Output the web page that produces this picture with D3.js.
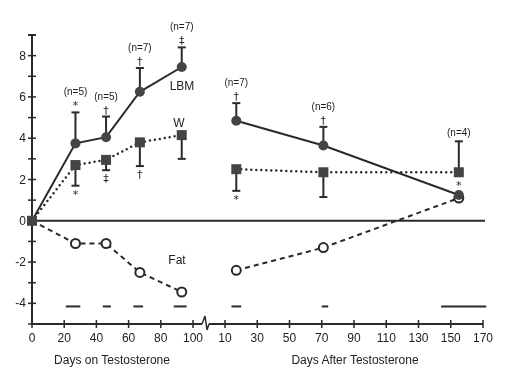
<!DOCTYPE html>
<html>
<head>
<meta charset="utf-8">
<script src="https://cdn.jsdelivr.net/npm/d3@7"></script>
<style>
  body { margin: 0; background: #fff; }
  svg { will-change: transform; }
  svg text { font-family: "Liberation Sans", Arial, sans-serif; fill: #222; }
  svg text.mark { font-family: "DejaVu Sans", sans-serif; opacity: 0.99; }
</style>
</head>
<body>
<svg id="chart" width="505" height="384"></svg>
<script>
// days on testosterone (left panel)
var daysOn = [0, 27, 46, 67, 93];
var lbmOn = [0, 3.75, 4.05, 6.25, 7.45];
var lbmOnHi = [null, 5.25, 5.05, 7.4, 8.4];
var lbmOnMark = ["", "*", "\u2020", "\u2020", "\u2021"];
var lbmOnN = ["", "(n=5)", "(n=5)", "(n=7)", "(n=7)"];
var wOn = [0, 2.7, 2.95, 3.8, 4.15];
var wOnLo = [null, 1.7, 2.45, 2.65, 3.0];
var wOnMark = ["", "*", "\u2021", "\u2020", ""];
var fatOn = [0, -1.1, -1.1, -2.5, -3.45];

// days after testosterone (right panel)
var daysOff = [17, 71, 155];
var lbmOff = [4.85, 3.65, 1.25];
var lbmOffHi = [5.7, 4.55, null];
var lbmOffN = ["(n=7)", "(n=6)", "(n=4)"];
var wOff = [2.5, 2.35, 2.35];
var wOffLo = [1.45, 1.15, null];
var wOffHi = [null, null, 3.85];
var wOffMark = ["*", "", ""];
var fatOff = [-2.4, -1.3, 1.1];

// bars along the bottom (day ranges)
var barsOn = [[21, 30], [44, 49], [63, 69], [88, 96]];
var barsOff = [[14, 20], [70, 74], [144, 172]];

var yTicks = [-4, -2, 0, 2, 4, 6, 8];
var yMinor = [-5, -3, -1, 1, 3, 5, 7];
var xTicksOn = [0, 20, 40, 60, 80, 100];
var xTicksOff = [10, 30, 50, 70, 90, 110, 130, 150, 170];

var ink = "#2a2a2a";
var svg = d3.select("#chart");

var xOn = d3.scaleLinear().domain([0, 100]).range([32, 193]);
var xOff = d3.scaleLinear().domain([10, 170]).range([225, 483]);
var y = d3.scaleLinear().domain([-5, 9]).range([324, 35]);

var g = svg.append("g");

// y axis
g.append("line").attr("x1", xOn(0)).attr("x2", xOn(0))
	.attr("y1", y(9)).attr("y2", y(-5))
	.attr("stroke", ink).attr("stroke-width", 2);
g.append("line").attr("x1", xOn(0) - 4).attr("x2", xOn(0) + 4)
	.attr("y1", y(9)).attr("y2", y(9))
	.attr("stroke", ink).attr("stroke-width", 2);
yTicks.concat(yMinor).forEach(function(v) {
	g.append("line").attr("x1", xOn(0) - 4).attr("x2", xOn(0) + 4)
		.attr("y1", y(v)).attr("y2", y(v))
		.attr("stroke", ink).attr("stroke-width", 1.5);
});
yTicks.forEach(function(v) {
	g.append("text").attr("x", xOn(0) - 6).attr("y", y(v) + 4)
		.attr("text-anchor", "end").attr("font-size", "12px").text(v);
});

// x axis, two segments with a break
var axY = y(-5);
g.append("line").attr("x1", xOn(0)).attr("x2", 202)
	.attr("y1", axY).attr("y2", axY).attr("stroke", ink).attr("stroke-width", 2);
g.append("path").attr("d", "M202," + axY + "L205," + (axY - 8) + "L207," + (axY + 6) + "L209," + axY)
	.attr("fill", "none").attr("stroke", ink).attr("stroke-width", 1.5);
g.append("line").attr("x1", 209).attr("x2", xOff(170))
	.attr("y1", axY).attr("y2", axY).attr("stroke", ink).attr("stroke-width", 2);

function xTicks(scale, ticks) {
	ticks.forEach(function(v) {
		g.append("line").attr("x1", scale(v)).attr("x2", scale(v))
			.attr("y1", axY - 4).attr("y2", axY + 4)
			.attr("stroke", ink).attr("stroke-width", 1.5);
		g.append("text").attr("x", scale(v)).attr("y", axY + 18)
			.attr("text-anchor", "middle").attr("font-size", "12px").text(v);
	});
}
xTicks(xOn, xTicksOn);
xTicks(xOff, xTicksOff);

g.append("text").attr("x", 112).attr("y", 364).attr("text-anchor", "middle")
	.attr("font-size", "12px").text("Days on Testosterone");
g.append("text").attr("x", 355).attr("y", 364).attr("text-anchor", "middle")
	.attr("font-size", "12px").text("Days After Testosterone");

// zero line
g.append("line").attr("x1", xOn(0)).attr("x2", xOff(170) + 2)
	.attr("y1", y(0)).attr("y2", y(0)).attr("stroke", ink).attr("stroke-width", 2);

// bottom bars
barsOn.forEach(function(b) {
	g.append("line").attr("x1", xOn(b[0])).attr("x2", xOn(b[1]))
		.attr("y1", y(-4.15)).attr("y2", y(-4.15)).attr("stroke", ink).attr("stroke-width", 2);
});
barsOff.forEach(function(b) {
	g.append("line").attr("x1", xOff(b[0])).attr("x2", xOff(b[1]))
		.attr("y1", y(-4.15)).attr("y2", y(-4.15)).attr("stroke", ink).attr("stroke-width", 2);
});

// error bars
function errBar(x, v, end) {
	if (end == null) return;
	g.append("line").attr("x1", x).attr("x2", x).attr("y1", y(v)).attr("y2", y(end))
		.attr("stroke", ink).attr("stroke-width", 2);
	g.append("line").attr("x1", x - 4).attr("x2", x + 4).attr("y1", y(end)).attr("y2", y(end))
		.attr("stroke", ink).attr("stroke-width", 2);
}
function label(x, yy, txt, size, cls) {
	if (!txt) return;
	g.append("text").attr("class", cls || null).attr("x", x).attr("y", yy)
		.attr("text-anchor", "middle").attr("font-size", size)
		.style("fill", "#222").text(txt);
}

daysOn.forEach(function(d, i) {
	errBar(xOn(d), lbmOn[i], lbmOnHi[i]);
	errBar(xOn(d), wOn[i], wOnLo[i]);
	if (lbmOnHi[i] != null) {
		label(xOn(d), y(lbmOnHi[i]) - 3, lbmOnMark[i], "11px", "mark");
		label(xOn(d), y(lbmOnHi[i]) - 17, lbmOnN[i], "10px");
	}
	if (wOnLo[i] != null) label(xOn(d), y(wOnLo[i]) + 12, wOnMark[i], "11px", "mark");
});
daysOff.forEach(function(d, i) {
	errBar(xOff(d), lbmOff[i], lbmOffHi[i]);
	errBar(xOff(d), wOff[i], wOffLo[i]);
	errBar(xOff(d), wOff[i], wOffHi[i]);
	var top = lbmOffHi[i] != null ? lbmOffHi[i] : wOffHi[i];
	if (lbmOffHi[i] != null) label(xOff(d), y(top) - 3, "\u2020", "11px", "mark");
	label(xOff(d), y(top) - (lbmOffHi[i] != null ? 17 : 5), lbmOffN[i], "10px");
	if (wOffLo[i] != null) label(xOff(d), y(wOffLo[i]) + 12, wOffMark[i], "11px", "mark");
});
label(xOff(155), y(1.75) + 4, "*", "11px", "mark");

// lines
function series(xs, scale, vals, dash, width) {
	var line = d3.line().x(function(d) { return scale(d[0]); }).y(function(d) { return y(d[1]); });
	g.append("path").datum(d3.zip(xs, vals)).attr("d", line)
		.attr("fill", "none").attr("stroke", ink).attr("stroke-width", width)
		.attr("stroke-dasharray", dash).attr("stroke-linecap", dash === "0,5" ? "round" : "butt");
}
series(daysOn, xOn, lbmOn, null, 2);
series(daysOff, xOff, lbmOff, null, 2);
series(daysOn, xOn, wOn, "0,5", 2.5);
series(daysOff, xOff, wOff, "0,5", 2.5);
series(daysOn, xOn, fatOn, "5,4", 2);
series(daysOff, xOff, fatOff, "5,4", 2);

// markers
function markers(xs, scale, lbm, w, fat, skipFirst) {
	xs.forEach(function(d, i) {
		if (skipFirst && i === 0) return;
		g.append("circle").attr("cx", scale(d)).attr("cy", y(fat[i])).attr("r", 4.5)
			.attr("fill", "#fff").attr("stroke", ink).attr("stroke-width", 2);
		g.append("rect").attr("x", scale(d) - 5).attr("y", y(w[i]) - 5)
			.attr("width", 10).attr("height", 10).attr("fill", "#444");
		g.append("circle").attr("cx", scale(d)).attr("cy", y(lbm[i])).attr("r", 5)
			.attr("fill", "#444");
	});
}
markers(daysOn, xOn, lbmOn, wOn, fatOn, true);
markers(daysOff, xOff, lbmOff, wOff, fatOff, false);
g.append("rect").attr("x", xOn(0) - 5).attr("y", y(0) - 5)
	.attr("width", 10).attr("height", 10).attr("fill", "#444");

// series names
g.append("text").attr("x", 182).attr("y", 90).attr("text-anchor", "middle")
	.attr("font-size", "12px").text("LBM");
g.append("text").attr("x", 179).attr("y", 127).attr("text-anchor", "middle")
	.attr("font-size", "12px").text("W");
g.append("text").attr("x", 177).attr("y", 264).attr("text-anchor", "middle")
	.attr("font-size", "12px").text("Fat");
</script>
</body>
</html>
